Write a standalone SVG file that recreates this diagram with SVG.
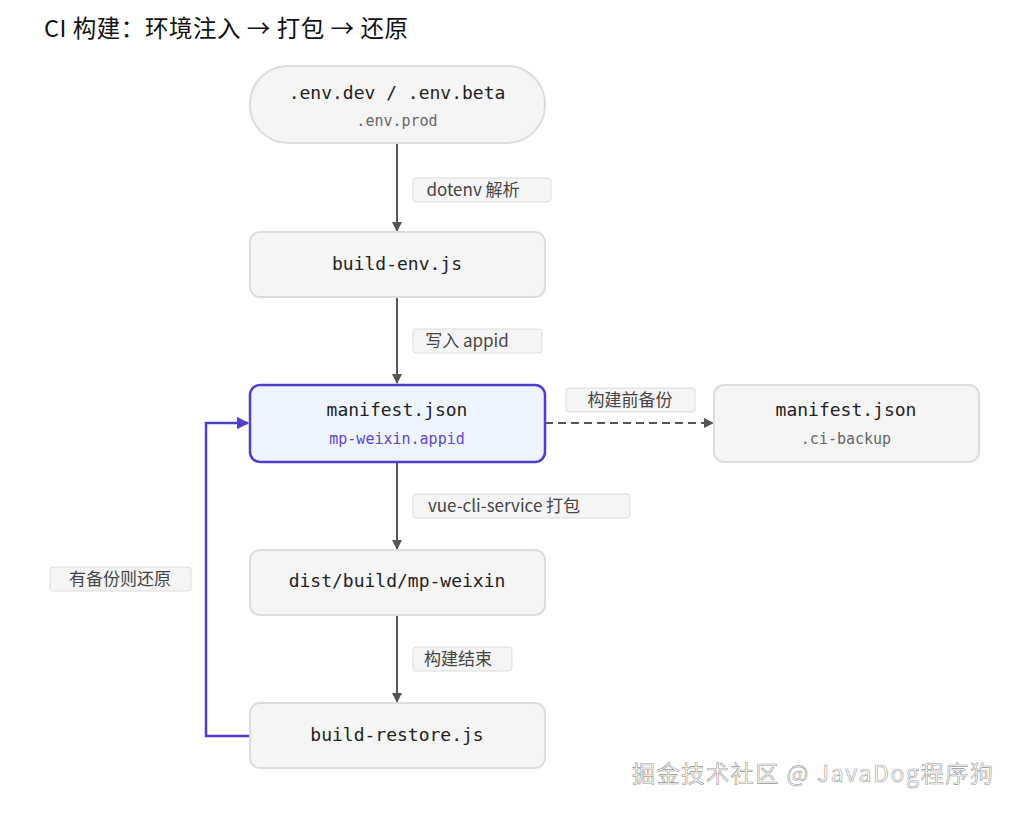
<svg xmlns="http://www.w3.org/2000/svg" width="1017" height="813" viewBox="0 0 1017 813">
<style>
.node{fill:#f5f5f5;stroke:#dcdcdc;stroke-width:2}
.t{font-family:"DejaVu Sans Mono",monospace;font-size:18px;font-weight:500;fill:#222;text-anchor:middle}
.s{font-family:"DejaVu Sans Mono",monospace;font-size:15px;fill:#666;text-anchor:middle}
.lb{fill:#f5f5f5;stroke:#dcdcdc;stroke-width:1}
.lt{font-family:"Noto Sans CJK SC","Noto Sans",sans-serif;font-size:17px;fill:#444;text-anchor:middle}
.e{stroke:#555;stroke-width:2;fill:none}
</style>
<defs>
<marker id="a" viewBox="0 0 10 10" refX="9" refY="5" markerWidth="5" markerHeight="5" orient="auto"><path d="M0,0L10,5L0,10z" fill="#555"/></marker>
<marker id="b" viewBox="0 0 10 10" refX="9" refY="5" markerWidth="5" markerHeight="5" orient="auto"><path d="M0,0L10,5L0,10z" fill="#4f3fd0"/></marker>
</defs>
<rect width="1017" height="813" fill="#fff"/>
<text x="44" y="37" font-family="'Noto Sans CJK SC',sans-serif" font-size="23.5" fill="#111" textLength="364">CI 构建：环境注入 → 打包 → 还原</text>
<g id="edges">
<line class="e" x1="397" y1="143" x2="397" y2="231" marker-end="url(#a)"/>
<line class="e" x1="397" y1="297" x2="397" y2="383" marker-end="url(#a)"/>
<line class="e" x1="397" y1="462" x2="397" y2="549" marker-end="url(#a)"/>
<line class="e" x1="397" y1="615" x2="397" y2="702" marker-end="url(#a)"/>
<line class="e" x1="545" y1="423" x2="713" y2="423" stroke-dasharray="8,5" marker-end="url(#a)"/>
<path d="M250,736H206V423H248" stroke="#4f3fd0" stroke-width="2.5" fill="none" marker-end="url(#b)"/>
<rect class="lb" x="413" y="178" width="138" height="24" rx="3"/><text class="lt" x="473" y="196">dotenv 解析</text>
<rect class="lb" x="413" y="329" width="129" height="24" rx="3"/><text class="lt" x="467" y="347">写入 appid</text>
<rect class="lb" x="566" y="388" width="129" height="24" rx="3"/><text class="lt" x="630" y="406">构建前备份</text>
<rect class="lb" x="413" y="494" width="217" height="24" rx="3"/><text class="lt" x="504" y="512">vue-cli-service 打包</text>
<rect class="lb" x="50" y="567" width="141" height="24" rx="3"/><text class="lt" x="120" y="585">有备份则还原</text>
<rect class="lb" x="413" y="647" width="99" height="24" rx="3"/><text class="lt" x="458" y="665">构建结束</text>
</g>
<g id="n1"><rect class="node" x="250" y="66" width="295" height="77" rx="38"/><text class="t" x="397" y="99">.env.dev / .env.beta</text><text class="s" x="397" y="126">.env.prod</text></g>
<g id="n2"><rect class="node" x="250" y="232" width="295" height="65" rx="10"/><text class="t" x="397" y="270">build-env.js</text></g>
<g id="n3"><rect x="250" y="385" width="295" height="77" rx="10" fill="#eff5fe" stroke="#4f3fd0" stroke-width="2.5"/><text class="t" x="397" y="416">manifest.json</text><text class="s" x="397" y="444" style="fill:#5a48d0">mp-weixin.appid</text></g>
<g id="n4"><rect class="node" x="714" y="385" width="265" height="77" rx="10"/><text class="t" x="846" y="416">manifest.json</text><text class="s" x="846" y="444">.ci-backup</text></g>
<g id="n5"><rect class="node" x="250" y="550" width="295" height="65" rx="10"/><text class="t" x="397" y="587">dist/build/mp-weixin</text></g>
<g id="n6"><rect class="node" x="250" y="703" width="295" height="65" rx="10"/><text class="t" x="397" y="741">build-restore.js</text></g>
<text x="632" y="782" font-family="'Noto Sans CJK SC',sans-serif" font-size="23" fill="#fff" stroke="#999" stroke-width="0.6" textLength="361">掘金技术社区 @ JavaDog程序狗</text>
</svg>
